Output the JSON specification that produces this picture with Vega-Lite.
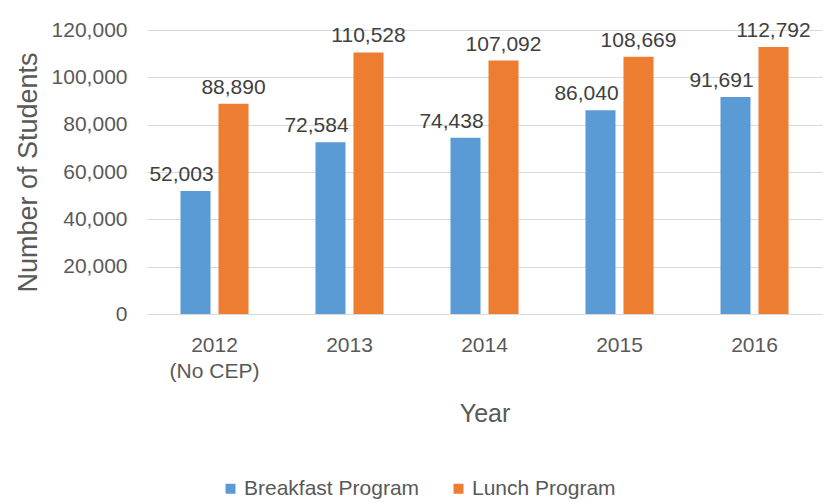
{
  "$schema": "https://vega.github.io/schema/vega-lite/v6.json",
  "width": 675,
  "height": 284,
  "autosize": {"type": "none"},
  "padding": {"left": 147, "top": 30, "right": 4, "bottom": 188},
  "background": "white",
  "config": {"font": "Liberation Sans", "view": {"stroke": null}},
  "data": {
    "values": [
      {"year": "2012", "program": "Breakfast Program", "students": 52003},
      {"year": "2012", "program": "Lunch Program", "students": 88890},
      {"year": "2013", "program": "Breakfast Program", "students": 72584},
      {"year": "2013", "program": "Lunch Program", "students": 110528},
      {"year": "2014", "program": "Breakfast Program", "students": 74438},
      {"year": "2014", "program": "Lunch Program", "students": 107092},
      {"year": "2015", "program": "Breakfast Program", "students": 86040},
      {"year": "2015", "program": "Lunch Program", "students": 108669},
      {"year": "2016", "program": "Breakfast Program", "students": 91691},
      {"year": "2016", "program": "Lunch Program", "students": 112792}
    ]
  },
  "encoding": {
    "x": {
      "field": "year",
      "type": "nominal",
      "sort": null,
      "scale": {"paddingInner": 0.496, "paddingOuter": 0.248},
      "axis": {
        "title": "Year",
        "labelExpr": "datum.label == '2012' ? ['2012', '(No CEP)'] : datum.label",
        "labelAngle": 0,
        "labelFontSize": 21,
        "labelColor": "#595959",
        "labelPadding": 20,
        "labelLineHeight": 26,
        "ticks": false,
        "domainColor": "#d9d9d9",
        "domainWidth": 1,
        "titleFontSize": 25,
        "titleFontWeight": "normal",
        "titleColor": "#595959",
        "titlePadding": 20
      }
    },
    "xOffset": {
      "field": "program",
      "type": "nominal",
      "sort": ["Breakfast Program", "Lunch Program"],
      "scale": {"paddingInner": 0.21, "paddingOuter": 0}
    },
    "y": {
      "field": "students",
      "type": "quantitative",
      "scale": {"domain": [0, 120000]},
      "axis": {
        "title": "Number of Students",
        "values": [0, 20000, 40000, 60000, 80000, 100000, 120000],
        "format": ",.0f",
        "labelFontSize": 21,
        "labelColor": "#595959",
        "labelPadding": 20,
        "ticks": false,
        "domain": false,
        "gridColor": "#d9d9d9",
        "gridWidth": 1,
        "titleFontSize": 27,
        "titleFontWeight": "normal",
        "titleColor": "#595959",
        "titlePadding": 9
      }
    }
  },
  "layer": [
    {
      "mark": {"type": "bar"},
      "encoding": {
        "color": {
          "field": "program",
          "type": "nominal",
          "scale": {
            "domain": ["Breakfast Program", "Lunch Program"],
            "range": ["#5b9bd5", "#ed7d31"]
          },
          "legend": {
            "title": null,
            "orient": "none",
            "direction": "horizontal",
            "legendX": 73,
            "legendY": 448,
            "symbolType": "square",
            "symbolSize": 100,
            "symbolStrokeWidth": 0,
            "labelOffset": 3,
            "labelLimit": 400,
            "columnPadding": 28,
            "labelFontSize": 21,
            "labelColor": "#595959"
          }
        }
      }
    },
    {
      "transform": [{"filter": "datum.program == 'Breakfast Program'"}],
      "mark": {"type": "text", "baseline": "alphabetic", "dy": -10, "dx": -14, "fontSize": 21, "color": "#404040"},
      "encoding": {"text": {"field": "students", "type": "quantitative", "format": ",.0f"}}
    },
    {
      "transform": [{"filter": "datum.program == 'Lunch Program'"}],
      "mark": {"type": "text", "baseline": "alphabetic", "dy": -10, "fontSize": 21, "color": "#404040"},
      "encoding": {"text": {"field": "students", "type": "quantitative", "format": ",.0f"}}
    }
  ]
}
